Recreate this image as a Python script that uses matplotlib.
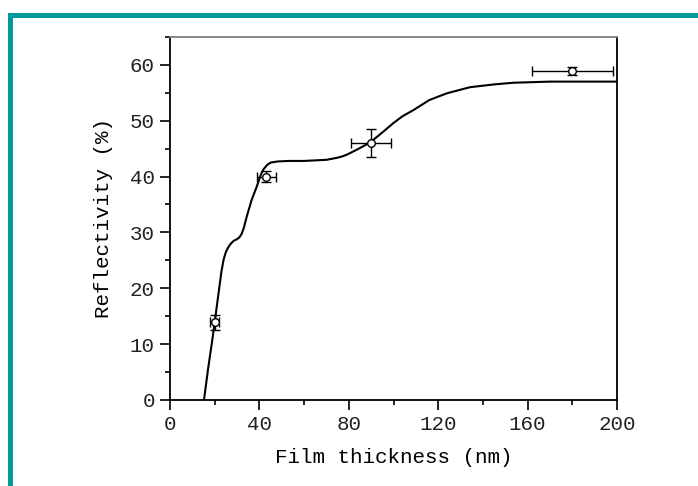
import numpy as np
import matplotlib
matplotlib.use('Agg')
import matplotlib.pyplot as plt
from matplotlib.patches import Rectangle
from matplotlib.ticker import MultipleLocator

plt.rcParams['font.family'] = ['Liberation Mono', 'DejaVu Sans Mono']

#measured points
thick = [20, 43, 90, 180]
refl = [13.9, 40, 46, 58.9]
thick_err = [2, 4.3, 9, 18]
refl_err = [1.4, 1, 2.5, 0.7]

#fitted curve
curve_x = [15.2, 17, 19, 20, 21, 22, 23, 24, 25, 26, 27, 28.5, 30, 31, 32, 33, 34.3,
           36.5, 38.8, 40.5, 41.8, 43.5, 45, 48, 53, 60, 65, 70, 72, 74.6, 77, 79, 81,
           84, 89.5, 95, 100, 104, 108.9, 116, 123.8, 134.2, 145, 153.6, 170, 185, 200]
curve_y = [0, 5.5, 11, 14, 17, 20, 23, 25.2, 26.5, 27.3, 27.9, 28.5, 28.8, 29.1, 29.7, 30.8, 32.8,
           35.8, 38.2, 40.2, 41.3, 42.1, 42.5, 42.7, 42.8, 42.8, 42.9, 43.0, 43.15, 43.35, 43.6, 43.9, 44.3,
           44.9, 46.1, 47.9, 49.6, 50.8, 51.9, 53.7, 54.9, 56, 56.5, 56.8, 57, 57, 57]

fig = plt.figure(figsize=(6.98, 4.86), dpi=100)
ax = fig.add_axes([0.2436, 0.177, 0.6404, 0.747])

ax.plot(curve_x, curve_y, color='black', lw=1.5)
ax.errorbar(thick, refl, xerr=thick_err, yerr=refl_err, fmt='o', ms=5.5,
            mfc='white', mec='black', mew=1, ecolor='black', elinewidth=1,
            capsize=3.5, capthick=1, zorder=3)

ax.set_xlim(0, 200)
ax.set_ylim(0, 65)
ax.xaxis.set_major_locator(MultipleLocator(40))
ax.xaxis.set_minor_locator(MultipleLocator(20))
ax.yaxis.set_major_locator(MultipleLocator(10))
ax.yaxis.set_minor_locator(MultipleLocator(5))
ax.tick_params(which='major', direction='out', length=7, width=1.2, labelsize=15,
               pad=4, colors='black', labelcolor='#222222')
ax.tick_params(which='minor', direction='out', length=3.5, width=1.2)
ax.tick_params(top=False, right=False)

for s in ['left', 'bottom', 'right']:
    ax.spines[s].set_linewidth(1.3)
ax.spines['top'].set_color('#808080')
ax.spines['top'].set_linewidth(1.3)

ax.set_xlabel('Film thickness (nm)', fontsize=15, labelpad=10)
ax.set_ylabel('Reflectivity (%)', fontsize=15, labelpad=12)

#teal frame round the figure
frame = Rectangle((0.0143, -0.2), 1.3, 0.9695 + 0.2, transform=fig.transFigure,
                  fill=False, edgecolor='#009999', lw=3.6, clip_on=False)
fig.patches.append(frame)

fig.savefig('out.png', dpi=100)
